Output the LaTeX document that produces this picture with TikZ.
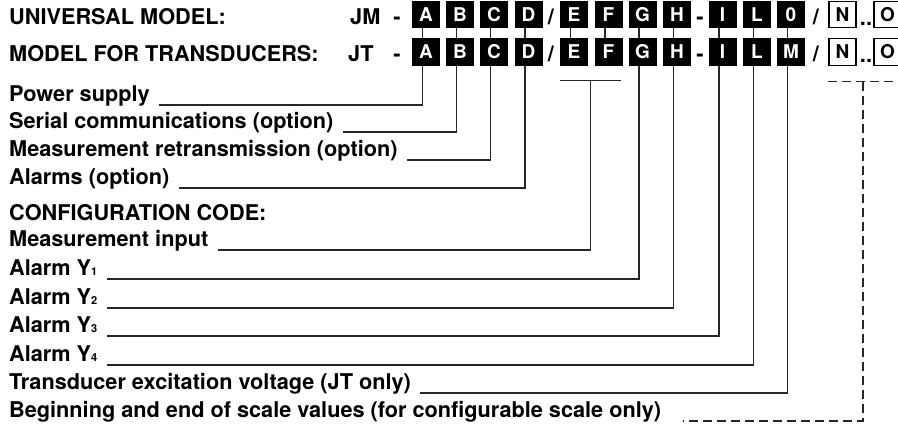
\documentclass[tikz,border=0pt]{standalone}
\usepackage{fontspec}
\setmainfont{TeX Gyre Heros}
\usetikzlibrary{calc}
\tikzset{
  cbox/.style={fill=black, text=white, minimum width=28pt, minimum height=27.5pt, inner sep=0pt, font=\bfseries\fontsize{19}{19}\selectfont},
  obox/.style={draw=black, line width=1.2pt, fill=white, text=black, minimum width=27pt, minimum height=26.5pt, inner sep=0pt, font=\bfseries\fontsize{19}{19}\selectfont},
  lbl/.style={anchor=base west, inner sep=0pt, font=\bfseries\fontsize{21.7}{24}\selectfont},
  sep/.style={anchor=base, inner sep=0pt, font=\bfseries\fontsize{21.7}{24}\selectfont},
  conn/.style={draw=black!85, line width=1.1pt},
  dconn/.style={draw=black!85, line width=1.1pt, dash pattern=on 9pt off 5pt}
}
\newcommand{\sbs}[1]{{\fontsize{11}{11}\selectfont #1}}
\begin{document}
\begin{tikzpicture}[x=1pt,y=-1pt]
\useasboundingbox (0,0) rectangle (898,430);
\fill[white] (0,0) rectangle (898,430);
% headers
\node[lbl] (h1) at (9,25) {UNIVERSAL MODEL:};
\node[lbl] (h2) at (9,62) {MODEL FOR TRANSDUCERS:};
\node[lbl] (jm) at (350,25) {JM};
\node[lbl] (jt) at (348,62) {JT};
\node[sep] (d1) at (397,25) {-};
\node[sep] (d2) at (397,62) {-};
\node[sep] (s1a) at (551,25) {/};
\node[sep] (s2a) at (551,62) {/};
\node[sep] (m1) at (700,25) {-};
\node[sep] (m2) at (700,62) {-};
\node[sep] (s1b) at (816,25) {/};
\node[sep] (s2b) at (816,62) {/};
\node[sep] (dd1) at (866,26) {..};
\node[sep] (dd2) at (866,63) {..};
% code boxes
\foreach \n/\x/\ta/\tb in {A/426/A/A,B/460/B/B,C/494/C/C,D/528.5/D/D,E/574/E/E,F/608.5/F/F,G/642.5/G/G,H/677/H/H,I/722.5/I/I,L/757/L/L,M/791/0/M}{
  \node[cbox] (\n1) at (\x,14.5) {\ta};
  \node[cbox] (\n2) at (\x,52) {\tb};
  \draw[conn] ([xshift=-3.5pt]\n1.south) -- ([xshift=-3.5pt]\n2.north);
}
\node[obox] (N1) at (842.5,14.5) {N};
\node[obox] (N2) at (842.5,52) {N};
\node[obox] (O1) at (887.5,14.5) {O};
\node[obox] (O2) at (887.5,52) {O};
% labels
\node[lbl] (ps) at (9,102) {Power supply};
\node[lbl] (sc) at (9,129) {Serial communications (option)};
\node[lbl] (mr) at (9,157) {Measurement retransmission (option)};
\node[lbl] (al) at (9,185) {Alarms (option)};
\node[lbl] (cc) at (9,221) {CONFIGURATION CODE:};
\node[lbl] (mi) at (9,247) {Measurement input};
\node[lbl] (y1) at (9,276) {Alarm Y\sbs{1}};
\node[lbl] (y2) at (9,305) {Alarm Y\sbs{2}};
\node[lbl] (y3) at (9,333) {Alarm Y\sbs{3}};
\node[lbl] (y4) at (9,362) {Alarm Y\sbs{4}};
\node[lbl] (tx) at (9,390) {Transducer excitation voltage (JT only)};
\node[lbl] (bs) at (9,418) {Beginning and end of scale values (for configurable scale only)};
% line ends
\foreach \l in {ps,sc,mr,al,mi,y1,y2,y3,y4,tx}{
  \coordinate (\l E) at ([xshift=9pt,yshift=-3pt]\l.base east);
}
\coordinate (bsE) at ([xshift=22pt,yshift=-3pt]bs.base east);
% connectors
\draw[conn] ([xshift=-3.5pt]A2.south) |- (psE);
\draw[conn] ([xshift=-3.5pt]B2.south) |- (scE);
\draw[conn] ([xshift=-3.5pt]C2.south) |- (mrE);
\draw[conn] ([xshift=-3.5pt]D2.south) |- (alE);
\coordinate (efL) at ([yshift=-15pt]E2.south west);
\coordinate (efR) at ([yshift=-15pt,xshift=-2pt]F2.south east);
\draw[conn] (efL) -- (efR);
\draw[conn] ($(efL)!0.5!(efR)$) |- (miE);
\draw[conn] ([xshift=-3.5pt]G2.south) |- (y1E);
\draw[conn] ([xshift=-3.5pt]H2.south) |- (y2E);
\draw[conn] ([xshift=-3.5pt]I2.south) |- (y3E);
\draw[conn] ([xshift=-3.5pt]L2.south) |- (y4E);
\draw[conn] ([xshift=-3.5pt]M2.south) |- (txE);
\coordinate (dL) at ([yshift=-16pt]N2.south west);
\coordinate (dR) at ([yshift=-16pt,xshift=-4pt]O2.south east);
\draw[dconn] (dL) -- (dR);
\draw[dconn] ($(dL)!0.5!(dR)$) |- (bsE);
\end{tikzpicture}
\end{document}
